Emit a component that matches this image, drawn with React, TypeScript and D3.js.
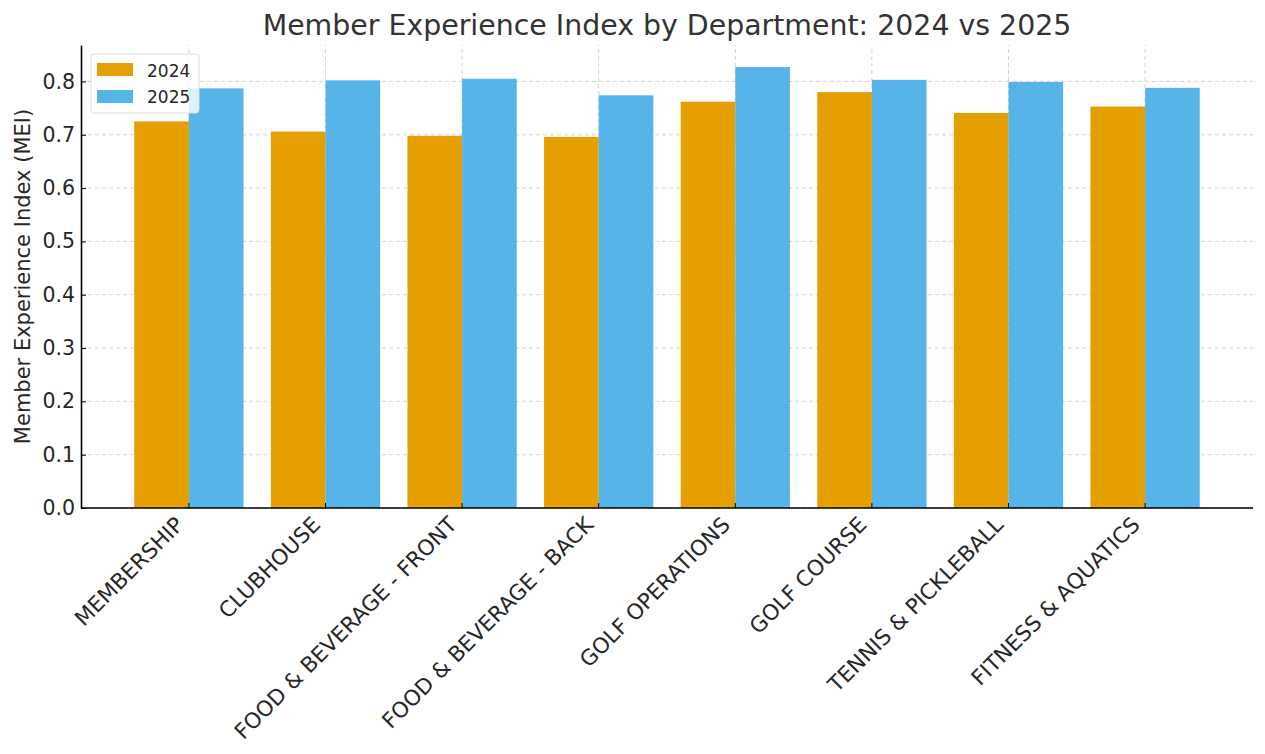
import * as d3 from 'd3';
import { useEffect, useRef } from 'react';

const departments = [
  'MEMBERSHIP',
  'CLUBHOUSE',
  'FOOD & BEVERAGE - FRONT',
  'FOOD & BEVERAGE - BACK',
  'GOLF OPERATIONS',
  'GOLF COURSE',
  'TENNIS & PICKLEBALL',
  'FITNESS & AQUATICS',
];
const mei2024 = [0.725, 0.706, 0.698, 0.696, 0.762, 0.78, 0.741, 0.753];
const mei2025 = [0.787, 0.802, 0.805, 0.774, 0.827, 0.803, 0.799, 0.788];
const seriesNames = ['2024', '2025'];
const seriesColors = ['#E69F00', '#56B4E9'];
const yTicks = [0, 0.1, 0.2, 0.3, 0.4, 0.5, 0.6, 0.7, 0.8];

const App = () => {
  const ref = useRef<null | SVGSVGElement>(null);

  useEffect(() => {
    const width = 1265;
    const height = 754;
    const margin = { top: 45, right: 12, bottom: 246, left: 81 };
    const font = 'DejaVu Sans, sans-serif';
    const txt = '#262626';

    const svg = d3.select(ref.current);
    svg.selectAll('*').remove();
    svg.attr('width', width).attr('height', height).style('font-family', font);

    const n = departments.length;
    const allVals = [...mei2024, ...mei2025];
    const yMax = (d3.max(allVals) as number) * 1.05;

    // matplotlib-like linear x over index with 5% margins
    const xLo = -0.4 - 0.05 * (n - 1 + 0.8);
    const xHi = n - 1 + 0.4 + 0.05 * (n - 1 + 0.8);
    const x = d3.scaleLinear().domain([xLo, xHi]).range([margin.left, width - margin.right]);
    const y = d3.scaleLinear().domain([0, yMax]).range([height - margin.bottom, margin.top]);

    const g = svg.append('g');

    // grid
    g.selectAll('.hgrid')
      .data(yTicks)
      .join('line')
      .attr('x1', x(xLo))
      .attr('x2', x(xHi))
      .attr('y1', (d) => y(d))
      .attr('y2', (d) => y(d))
      .attr('stroke', '#cccccc')
      .attr('stroke-width', 0.9)
      .attr('stroke-dasharray', '4,3');
    g.selectAll('.vgrid')
      .data(departments)
      .join('line')
      .attr('x1', (_, i) => x(i))
      .attr('x2', (_, i) => x(i))
      .attr('y1', y(0))
      .attr('y2', y(yMax))
      .attr('stroke', '#cccccc')
      .attr('stroke-width', 0.9)
      .attr('stroke-dasharray', '4,3');

    // bars
    const barW = 0.4;
    [mei2024, mei2025].forEach((vals, s) => {
      g.append('g')
        .selectAll('rect')
        .data(vals)
        .join('rect')
        .attr('x', (_, i) => x(i - barW + s * barW))
        .attr('width', x(barW) - x(0))
        .attr('y', (d) => y(d))
        .attr('height', (d) => y(0) - y(d))
        .attr('fill', seriesColors[s]);
    });

    // y axis
    const yAxis = d3
      .axisLeft(y)
      .tickValues(yTicks)
      .tickSizeInner(-5)
      .tickSizeOuter(0)
      .tickPadding(6)
      .tickFormat(d3.format('.1f'));
    const ya = svg.append('g').attr('transform', `translate(${margin.left},0)`).call(yAxis);
    ya.select('.domain').attr('stroke', '#000').attr('stroke-width', 1.6);
    ya.selectAll('.tick line').attr('stroke', '#000');
    ya.selectAll('.tick text')
      .attr('font-size', 20.5)
      .attr('font-family', font)
      .attr('fill', txt)
      .attr('x', -6);

    // x axis
    const base = y(0);
    svg
      .append('line')
      .attr('x1', x(xLo))
      .attr('x2', x(xHi))
      .attr('y1', base)
      .attr('y2', base)
      .attr('stroke', '#000')
      .attr('stroke-width', 1.6);
    svg
      .append('g')
      .selectAll('line')
      .data(departments)
      .join('line')
      .attr('x1', (_, i) => x(i))
      .attr('x2', (_, i) => x(i))
      .attr('y1', base)
      .attr('y2', base - 5)
      .attr('stroke', '#000');
    svg
      .append('g')
      .selectAll('text')
      .data(departments)
      .join('text')
      .attr('transform', (_, i) => `translate(${x(i) - 4},${base + 18}) rotate(-45)`)
      .attr('text-anchor', 'end')
      .attr('font-size', 21.5)
      .attr('fill', txt)
      .text((d) => d);

    // y label
    svg
      .append('text')
      .attr('transform', `translate(30,${(y(0) + y(yMax)) / 2}) rotate(-90)`)
      .attr('text-anchor', 'middle')
      .attr('font-size', 21)
      .attr('fill', txt)
      .text('Member Experience Index (MEI)');

    // title
    svg
      .append('text')
      .attr('x', (margin.left + width - margin.right) / 2)
      .attr('y', 35)
      .attr('text-anchor', 'middle')
      .attr('font-size', 28.4)
      .attr('fill', '#333')
      .text('Member Experience Index by Department: 2024 vs 2025');

    // legend
    const lg = svg.append('g').attr('transform', 'translate(91,54)');
    lg.append('rect')
      .attr('width', 108)
      .attr('height', 59)
      .attr('rx', 3)
      .attr('fill', 'white')
      .attr('fill-opacity', 0.8)
      .attr('stroke', '#dddddd');
    seriesNames.forEach((name, i) => {
      lg.append('rect')
        .attr('x', 6)
        .attr('y', 9 + i * 27)
        .attr('width', 36)
        .attr('height', 13)
        .attr('fill', seriesColors[i]);
      lg.append('text')
        .attr('x', 56)
        .attr('y', 23 + i * 26)
        .attr('font-size', 17)
        .attr('fill', txt)
        .text(name);
    });
  }, []);

  return <svg ref={ref} style={{ display: 'block', position: 'absolute', left: 0, top: 0 }} />;
};

export default App;
